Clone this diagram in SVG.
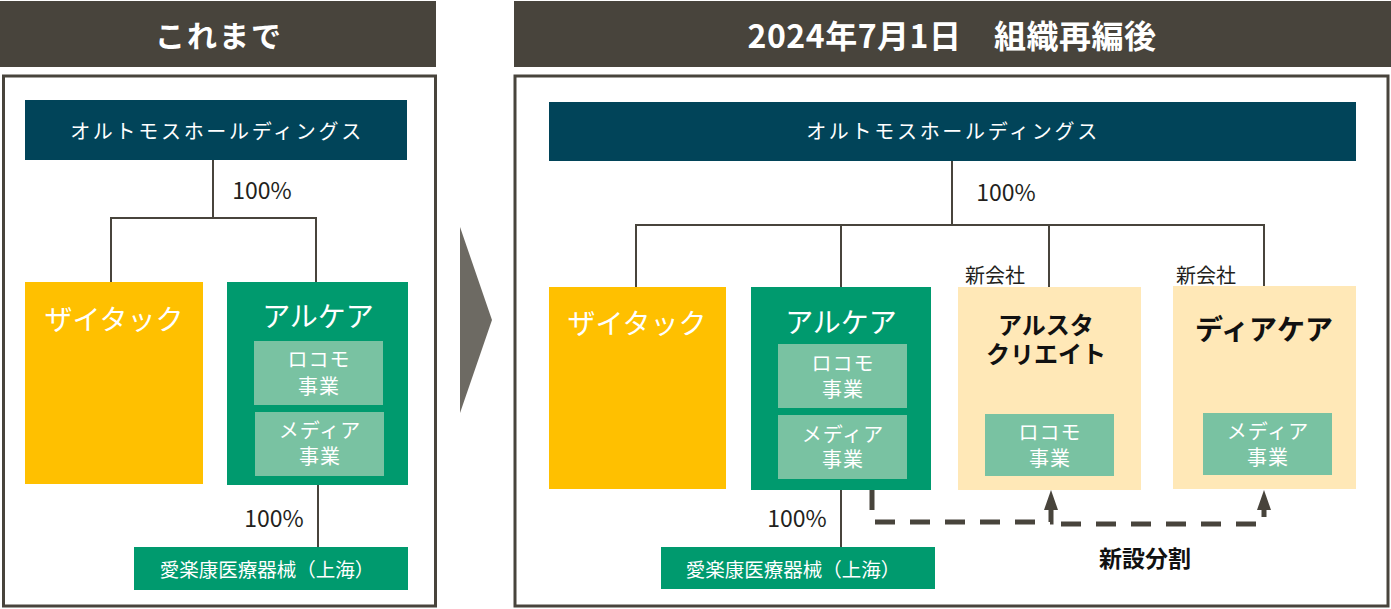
<svg xmlns="http://www.w3.org/2000/svg" width="1391" height="609" viewBox="0 0 1391 609">
<style>
text{font-family:"Noto Sans CJK JP","Noto Sans",sans-serif;dominant-baseline:central;text-anchor:middle}
.hdr{fill:#48443c}
.hdrt{fill:#fff;font-weight:700}
.frame{fill:#fff;stroke:#48443c;stroke-width:3}
.hold{fill:#014459}
.holdt{fill:#fff;font-size:20px;letter-spacing:2.7px}
.yel{fill:#ffc000}
.grn{fill:#009a6e}
.lgrn{fill:#79c2a2}
.peach{fill:#ffe8b7}
.big{fill:#fff;font-size:28px}
.sub{fill:#fff;font-size:20px;letter-spacing:1px}
.pct{fill:#231f1c;font-size:23px}
.sh{fill:#fff;font-size:19.5px}
.newc{fill:#231f1c;font-size:20px}
.bold{fill:#111;font-weight:700}
.ln{fill:none;stroke:#48443c;stroke-width:2}
.dash{fill:none;stroke:#48443c;stroke-width:5;stroke-dasharray:20 15}
</style>
<defs>
<marker id="ah" markerWidth="4" markerHeight="4" refX="2" refY="2" orient="auto" markerUnits="strokeWidth">
<path d="M0,0.6 L4,2 L0,3.4 Z" fill="#48443c"/>
</marker>
</defs>

<g id="left-header"><rect class="hdr" x="0" y="1" width="436" height="66"/><text class="hdrt" x="219" y="34" font-size="30" letter-spacing="2">これまで</text></g>
<g id="left-frame"><rect class="frame" x="3.5" y="76" width="432" height="530"/></g>

<g id="right-header"><rect class="hdr" x="514" y="1" width="877" height="66"/><text class="hdrt" x="952" y="34" font-size="32" letter-spacing="0.5">2024年7月1日　組織再編後</text></g>
<g id="right-frame"><rect class="frame" x="515" y="76" width="873" height="530"/></g>

<g id="chevron"><polygon points="460,227 492,320 460,413" fill="#6d6a63"/></g>

<g id="connectors">
<path class="ln" d="M213,160 V218 M111,282 V218 H316 V282"/>
<path class="ln" d="M318,485 V547"/>
<path class="ln" d="M952,161 V225 M636,287 V225 H1264 V287 M841,225 V287 M1049,225 V287"/>
<path class="ln" d="M841,490 V547"/>
<path class="dash" d="M872,490 V522 H1051 V500" stroke-dasharray="32 0 0 15 20 15 20 15 20 15 20 15 20 15 20 15 20 15 20 15" marker-end="url(#ah)"/>
<path class="dash" d="M1051,524 H1264 V500" stroke-dasharray="20 15" stroke-dashoffset="-10" marker-end="url(#ah)"/>
</g>

<g id="left-holdings"><rect class="hold" x="25" y="100" width="382" height="60"/><text class="holdt" x="217" y="130">オルトモスホールディングス</text></g>
<text class="pct" x="262" y="189">100%</text>
<g id="left-zaitakku"><rect class="yel" x="25" y="282" width="178" height="202"/><text class="big" x="114" y="318">ザイタック</text></g>
<g id="left-alcare"><rect class="grn" x="227" y="282" width="181" height="203"/><text class="big" x="318" y="315">アルケア</text>
<rect class="lgrn" x="254" y="341" width="129" height="64"/><text class="sub"><tspan x="319" y="358">ロコモ</tspan><tspan x="319" y="385">事業</tspan></text>
<rect class="lgrn" x="255" y="412" width="129" height="64"/><text class="sub"><tspan x="320" y="429">メディア</tspan><tspan x="320" y="455">事業</tspan></text></g>
<text class="pct" x="274" y="517">100%</text>
<g id="left-shanghai"><rect class="grn" x="134" y="547" width="274" height="43"/><text class="sh" x="267" y="568">愛楽康医療器械（上海）</text></g>

<g id="right-holdings"><rect class="hold" x="549" y="102" width="807" height="59"/><text class="holdt" x="953" y="130">オルトモスホールディングス</text></g>
<text class="pct" x="1006" y="191">100%</text>
<g id="right-zaitakku"><rect class="yel" x="549" y="287" width="177" height="202"/><text class="big" x="637" y="322">ザイタック</text></g>
<g id="right-alcare"><rect class="grn" x="751" y="287" width="180" height="203"/><text class="big" x="841" y="321">アルケア</text>
<rect class="lgrn" x="778" y="344" width="129" height="64"/><text class="sub"><tspan x="843" y="362">ロコモ</tspan><tspan x="843" y="388">事業</tspan></text>
<rect class="lgrn" x="778" y="415" width="129" height="64"/><text class="sub"><tspan x="843" y="433">メディア</tspan><tspan x="843" y="458">事業</tspan></text></g>
<text class="pct" x="797" y="517">100%</text>
<g id="right-shanghai"><rect class="grn" x="661" y="547" width="274" height="42"/><text class="sh" x="793" y="568">愛楽康医療器械（上海）</text></g>

<g id="arstar"><text class="newc" x="995" y="274">新会社</text><rect class="peach" x="958" y="287" width="183" height="203"/>
<text class="bold" font-size="24"><tspan x="1046" y="323">アルスタ</tspan><tspan x="1046" y="352">クリエイト</tspan></text>
<rect class="lgrn" x="985" y="414" width="129" height="62"/><text class="sub"><tspan x="1050" y="431">ロコモ</tspan><tspan x="1050" y="457">事業</tspan></text></g>

<g id="diacare"><text class="newc" x="1206" y="274">新会社</text><rect class="peach" x="1173" y="286" width="183" height="203"/>
<text class="bold" x="1264" y="328" font-size="28">ディアケア</text>
<rect class="lgrn" x="1203" y="413" width="129" height="62"/><text class="sub"><tspan x="1268" y="430">メディア</tspan><tspan x="1268" y="456">事業</tspan></text></g>

<text class="bold" x="1145" y="557" font-size="23">新設分割</text>
</svg>
